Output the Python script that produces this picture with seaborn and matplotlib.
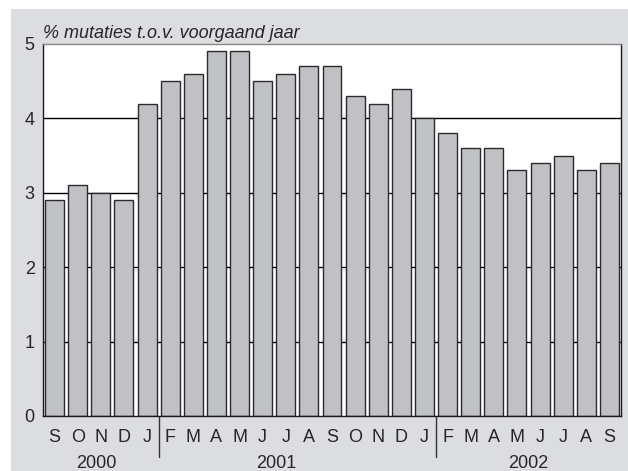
import pandas as pd
import matplotlib
matplotlib.use('Agg')
import matplotlib.pyplot as plt
import matplotlib.transforms as mtransforms
from matplotlib.patches import Rectangle
import seaborn as sns

months = ["S", "O", "N", "D", "J", "F", "M", "A", "M", "J", "J", "A", "S",
          "O", "N", "D", "J", "F", "M", "A", "M", "J", "J", "A", "S"]
values = [2.9, 3.1, 3.0, 2.9, 4.2, 4.5, 4.6, 4.9, 4.9, 4.5, 4.6, 4.7, 4.7,
          4.3, 4.2, 4.4, 4.0, 3.8, 3.6, 3.6, 3.3, 3.4, 3.5, 3.3, 3.4]
years = ["2000", "2001", "2002"]
year_pos = [1.8, 9.6, 20.5]
dividers = [4.5, 16.5]
yticks = [0, 1, 2, 3, 4, 5]

df = pd.DataFrame({"pos": range(len(values)), "value": values})

sns.set_style("white")
plt.rcParams['font.family'] = ['Liberation Sans', 'DejaVu Sans']

fig = plt.figure(figsize=(6.28, 4.71), dpi=100)
fig.patch.set_facecolor("white")
# grey panel behind the chart
fig.patches.append(Rectangle((11 / 628, 0), 1 - 11 / 628, 1 - 9 / 471,
                             transform=fig.transFigure, facecolor="#dcdde0",
                             edgecolor="none", zorder=-10))
ax = fig.add_axes([43 / 628, 1 - 416 / 471, (621 - 43) / 628, (416 - 44) / 471])
ax.set_facecolor("white")

sns.barplot(data=df, x="pos", y="value", ax=ax, color="#c0c1c5",
            saturation=1, width=0.82, edgecolor="#2b2b2b", linewidth=1.0)

ax.set_ylim(0, 5)
ax.set_xlim(-0.5, len(values) - 0.5)
ax.set_yticks(yticks)
ax.set_yticklabels([str(t) for t in yticks], fontsize=13)
ax.set_xticks(range(len(values)))
ax.set_xticklabels(months, fontsize=13)
ax.tick_params(axis="both", length=0)
ax.tick_params(axis="y", pad=6)
ax.tick_params(axis="x", pad=9)
ax.set_xlabel("")
ax.set_ylabel("")

ax.set_axisbelow(True)
for t in [1, 2, 3, 4]:
    ax.axhline(t, color="black", lw=1.0, zorder=0)

for side in ["left", "right", "bottom"]:
    ax.spines[side].set_color("#1a1a1a")
    ax.spines[side].set_linewidth(1.0)
ax.spines["top"].set_color("#888888")
ax.spines["top"].set_linewidth(1.0)

trans = mtransforms.blended_transform_factory(ax.transData, ax.transAxes)
for d in dividers:
    ax.plot([d, d], [0, -41 / 372], transform=trans, color="#333333",
            lw=1.0, clip_on=False)
for y, p in zip(years, year_pos):
    ax.text(p, -47 / 372, y, transform=trans, ha="center", va="center",
            fontsize=13)

ax.text(0.0, 1.006, "% mutaties t.o.v. voorgaand jaar", transform=ax.transAxes,
        ha="left", va="bottom", fontsize=13, style="italic")

plt.savefig("out.png", dpi=100)
